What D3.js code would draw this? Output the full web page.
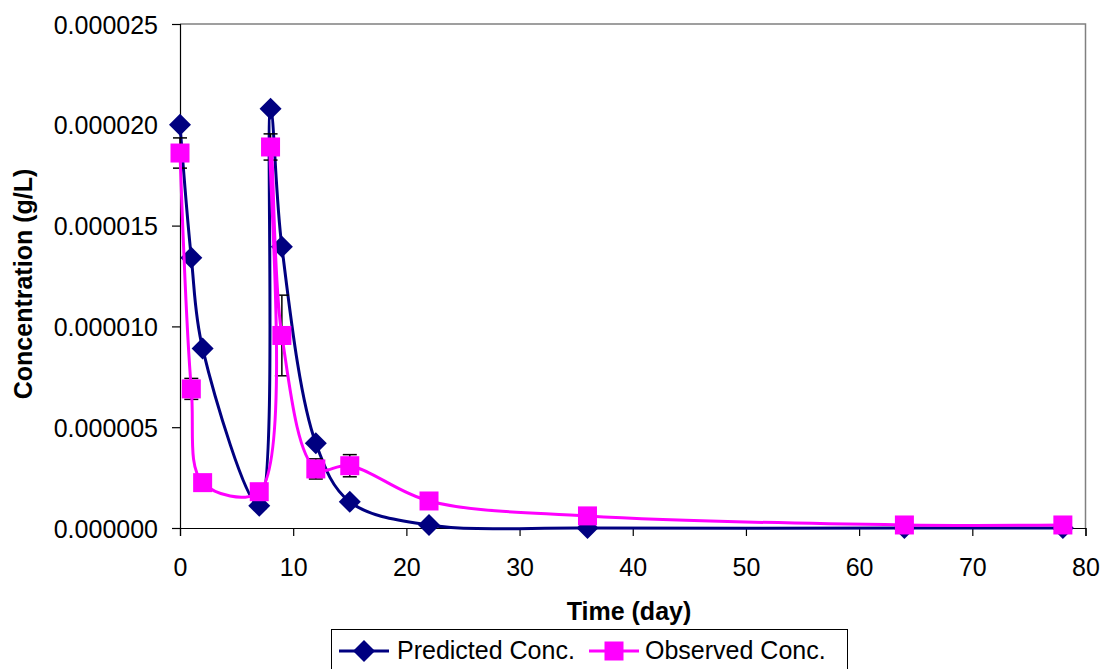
<!DOCTYPE html>
<html><head><meta charset="utf-8">
<script src="https://cdn.jsdelivr.net/npm/d3@7/dist/d3.min.js"></script>
<style>body{margin:0;background:#fff}svg{display:block}text{font-family:"Liberation Sans",Arial,sans-serif}</style>
</head><body>
<svg id="c" width="1107" height="669"></svg>
<script>
const times = [0, 1, 2, 7, 8, 9, 12, 15, 22, 36, 64, 78];
const predicted = [2.0e-5, 1.34e-5, 8.9e-6, 1.1e-6, 2.08e-5, 1.395e-5, 4.2e-6, 1.3e-6, 1.5e-7, 0, 0, 0];
const observed = [1.86e-5, 6.9e-6, 2.25e-6, 1.8e-6, 1.89e-5, 9.55e-6, 2.93e-6, 3.09e-6, 1.34e-6, 6.0e-7, 1.5e-7, 1.5e-7];
const observedErr = [0.75e-6, 0.52e-6, 0.2e-6, 0.2e-6, 0.65e-6, 2.0e-6, 0.5e-6, 0.55e-6, 0.1e-6, 0.1e-6, 0.05e-6, 0.05e-6];
const xTicks = [0, 10, 20, 30, 40, 50, 60, 70, 80];
const yTicks = [0, 5e-6, 10e-6, 15e-6, 20e-6, 25e-6];
const seriesNames = ["Predicted Conc.", "Observed Conc."];

const svg = d3.select("#c");
const L = 180, R = 1085.5, T = 24, B = 528;
const x = d3.scaleLinear().domain([0, 80]).range([L, R]);
const y = d3.scaleLinear().domain([0, 25e-6]).range([B, T]);
const navy = "#000080", mag = "#FF00FF";

// plot border (top/right)
svg.append("path").attr("d", `M${L},${T}H${R}V${B}`).attr("fill", "none").attr("stroke", "#808080").attr("stroke-width", 1.5);

// axes
const xAxis = svg.append("g").attr("transform", `translate(0,${B})`)
  .call(d3.axisBottom(x).tickValues(xTicks).tickSize(8).tickPadding(22).tickFormat(d3.format("d")));
const yAxis = svg.append("g").attr("transform", `translate(${L},0)`)
  .call(d3.axisLeft(y).tickValues(yTicks).tickSize(8).tickPadding(14).tickFormat(d3.format(".6f")));
[xAxis, yAxis].forEach(g => {
  g.select(".domain").attr("stroke", "#000").attr("stroke-width", 1.2);
  g.selectAll(".tick line").attr("stroke", "#000").attr("stroke-width", 1.2);
  g.selectAll("text").attr("font-size", 25).attr("fill", "#000")
   .style("font-family", '"Liberation Sans",Arial,sans-serif');
});
yAxis.selectAll("text").attr("dy", "0.36em");

// titles
svg.append("text").attr("x", 629).attr("y", 620).attr("text-anchor", "middle")
  .attr("font-size", 25).attr("font-weight", "bold").text("Time (day)");
svg.append("text").attr("transform", "translate(32,284) rotate(-90)").attr("text-anchor", "middle")
  .attr("font-size", 25).attr("font-weight", "bold").text("Concentration (g/L)");

const line = d3.line().x(d => x(d[0])).y(d => y(d[1])).curve(d3.curveCatmullRom.alpha(0.5));
const predPts = times.map((t, i) => [t, predicted[i]]);
const obsPts = times.map((t, i) => [t, observed[i]]);

const diamond = (g, cx, cy, r) => g.append("path")
  .attr("d", `M${cx},${cy - r}L${cx + r},${cy}L${cx},${cy + r}L${cx - r},${cy}Z`).attr("fill", navy);
const square = (g, cx, cy, s) => g.append("rect")
  .attr("x", cx - s / 2).attr("y", cy - s / 2).attr("width", s).attr("height", s).attr("fill", mag);

// predicted
svg.append("path").attr("d", line(predPts)).attr("fill", "none").attr("stroke", navy).attr("stroke-width", 3);
const gp = svg.append("g");
predPts.forEach(p => diamond(gp, x(p[0]), y(p[1]), 11));

// error bars
const ge = svg.append("g").attr("stroke", "#000").attr("stroke-width", 1.5);
obsPts.forEach((p, i) => {
  const cx = x(p[0]), y1 = y(p[1] + observedErr[i]), y2 = y(p[1] - observedErr[i]);
  ge.append("line").attr("x1", cx).attr("x2", cx).attr("y1", y1).attr("y2", y2);
  ge.append("line").attr("x1", cx - 7).attr("x2", cx + 7).attr("y1", y1).attr("y2", y1);
  ge.append("line").attr("x1", cx - 7).attr("x2", cx + 7).attr("y1", y2).attr("y2", y2);
});

// observed
svg.append("path").attr("d", line(obsPts)).attr("fill", "none").attr("stroke", mag).attr("stroke-width", 3);
const go = svg.append("g");
obsPts.forEach(p => square(go, x(p[0]), y(p[1]), 19));

// legend
svg.append("rect").attr("x", 331.5).attr("y", 629.5).attr("width", 516).attr("height", 50)
  .attr("fill", "#fff").attr("stroke", "#000").attr("stroke-width", 1);
const ly = 651;
svg.append("line").attr("x1", 339).attr("x2", 389).attr("y1", ly).attr("y2", ly).attr("stroke", navy).attr("stroke-width", 3);
diamond(svg, 364, ly, 11);
svg.append("text").attr("x", 397).attr("y", 659).attr("font-size", 25).text(seriesNames[0]);
svg.append("line").attr("x1", 589).attr("x2", 639).attr("y1", ly).attr("y2", ly).attr("stroke", mag).attr("stroke-width", 3);
square(svg, 614, ly, 19);
svg.append("text").attr("x", 645).attr("y", 659).attr("font-size", 25).text(seriesNames[1]);
</script>
</body></html>
